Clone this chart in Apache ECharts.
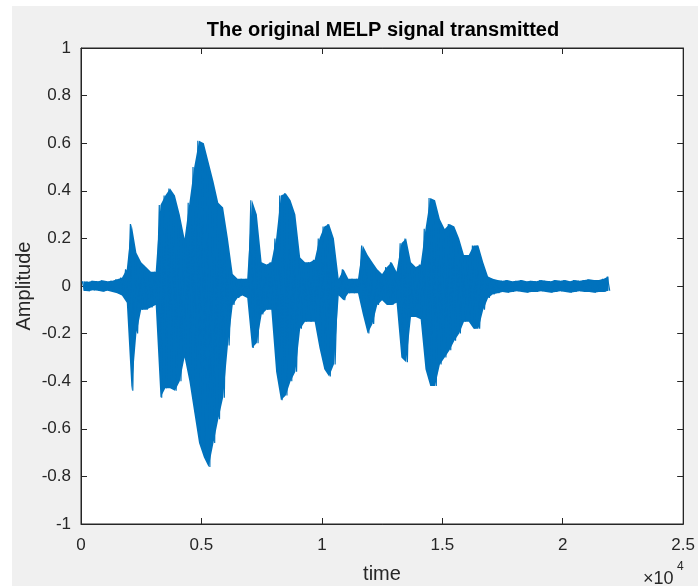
<!DOCTYPE html>
<html>
<head>
<meta charset="utf-8">
<script src="https://cdn.jsdelivr.net/npm/echarts@6/dist/echarts.min.js"></script>
<style>
  html, body { margin: 0; padding: 0; background: #ffffff; }
  #bg { position: absolute; left: 12px; top: 6px; width: 686px; height: 580px; background: #f0f0f0; }
  #chart { position: absolute; left: 0; top: 0; width: 698px; height: 586px; }
</style>
</head>
<body>
<div id="bg"></div>
<div id="chart"></div>
<script>
// Envelope of the waveform, one max/min pair per block of samples
const blockSize = 200;
const blockMax = [
  0.02, 0.018, 0.022, 0.02, 0.024, 0.02, 0.022, 0.028, 0.035, 0.07,
  0.26, 0.14, 0.1, 0.08, 0.06, 0.06, 0.34, 0.38, 0.41, 0.38,
  0.3, 0.2, 0.35, 0.5, 0.61, 0.6, 0.52, 0.44, 0.35, 0.33,
  0.2, 0.05, 0.03, 0.03, 0.03, 0.36, 0.3, 0.1, 0.09, 0.1,
  0.2, 0.38, 0.39, 0.36, 0.3, 0.12, 0.1, 0.1, 0.11, 0.2,
  0.25, 0.26, 0.2, 0.03, 0.07, 0.03, 0.03, 0.03, 0.17, 0.13,
  0.1, 0.07, 0.05, 0.08, 0.1, 0.06, 0.18, 0.2, 0.1, 0.08,
  0.09, 0.24, 0.37, 0.36, 0.28, 0.24, 0.26, 0.25, 0.2, 0.13,
  0.13, 0.17, 0.17, 0.1, 0.04, 0.03, 0.025, 0.022, 0.025, 0.02,
  0.022, 0.025, 0.02, 0.022, 0.02, 0.025, 0.022, 0.02, 0.025, 0.022,
  0.025, 0.02, 0.025, 0.022, 0.025, 0.028, 0.025, 0.025, 0.03, 0.04
];
const blockMin = [
  -0.02, -0.022, -0.018, -0.02, -0.024, -0.02, -0.025, -0.03, -0.04, -0.07,
  -0.44, -0.2, -0.1, -0.1, -0.09, -0.08, -0.47, -0.43, -0.43, -0.44,
  -0.4, -0.3, -0.4, -0.53, -0.66, -0.72, -0.76, -0.66, -0.56, -0.47,
  -0.25, -0.08, -0.05, -0.04, -0.05, -0.26, -0.24, -0.12, -0.1, -0.1,
  -0.36, -0.48, -0.46, -0.4, -0.36, -0.18, -0.15, -0.15, -0.15, -0.26,
  -0.35, -0.38, -0.33, -0.04, -0.06, -0.03, -0.03, -0.03, -0.12, -0.2,
  -0.16, -0.08, -0.06, -0.08, -0.08, -0.07, -0.3, -0.32, -0.13, -0.13,
  -0.14, -0.35, -0.42, -0.42, -0.33, -0.3, -0.27, -0.23, -0.2, -0.15,
  -0.15, -0.18, -0.18, -0.1, -0.05, -0.035, -0.03, -0.025, -0.028, -0.025,
  -0.022, -0.025, -0.028, -0.025, -0.025, -0.022, -0.025, -0.028, -0.025, -0.022,
  -0.025, -0.028, -0.025, -0.022, -0.025, -0.025, -0.028, -0.025, -0.025, -0.02
];
const xTicks = [0, 5000, 10000, 15000, 20000, 25000];
const yTicks = [-1, -0.8, -0.6, -0.4, -0.2, 0, 0.2, 0.4, 0.6, 0.8, 1];
const titleText = 'The original MELP signal transmitted';
const xName = 'time';
const yName = 'Amplitude';

const waveColor = '#0072BD';

// zig-zag trace: max then min inside each block
const points = [];
for (let i = 0; i < blockMax.length; i++) {
  points.push([i * blockSize + blockSize * 0.25, blockMax[i]]);
  points.push([i * blockSize + blockSize * 0.75, blockMin[i]]);
}
// envelope rows for the filled band
const envelope = blockMax.map((v, i) => [i * blockSize + blockSize / 2, v, blockMin[i]]);

const axisColor = '#262626';
const font = 'Liberation Sans, Arial, Helvetica, sans-serif';
const chart = echarts.init(document.getElementById('chart'), null, { renderer: 'canvas' });

const tickCommon = { show: true, inside: true, length: 6, lineStyle: { color: axisColor, width: 1 } };

chart.setOption({
  backgroundColor: 'transparent',
  animation: false,
  grid: { left: 81, top: 48, width: 604, height: 476, show: true, backgroundColor: '#ffffff', borderColor: axisColor, borderWidth: 1, containLabel: false },
  xAxis: [
    {
      type: 'value', position: 'bottom', min: xTicks[0], max: xTicks[xTicks.length - 1], interval: 5000,
      axisLine: { show: true, onZero: false, lineStyle: { color: axisColor, width: 1 } },
      axisTick: tickCommon,
      splitLine: { show: false },
      axisLabel: { margin: 13, color: axisColor, fontSize: 17, fontFamily: font, formatter: v => String(v / 10000) }
    },
    {
      type: 'value', position: 'top', min: xTicks[0], max: xTicks[xTicks.length - 1], interval: 5000,
      axisLine: { show: true, onZero: false, lineStyle: { color: axisColor, width: 1 } },
      axisTick: tickCommon, splitLine: { show: false }, axisLabel: { show: false }
    }
  ],
  yAxis: [
    {
      type: 'value', position: 'left', min: yTicks[0], max: yTicks[yTicks.length - 1], interval: 0.2,
      axisLine: { show: true, onZero: false, lineStyle: { color: axisColor, width: 1 } },
      axisTick: tickCommon,
      splitLine: { show: false },
      axisLabel: { margin: 10, color: axisColor, fontSize: 17, fontFamily: font, formatter: v => String(Math.round(v * 10) / 10) }
    },
    {
      type: 'value', position: 'right', min: yTicks[0], max: yTicks[yTicks.length - 1], interval: 0.2,
      axisLine: { show: true, onZero: false, lineStyle: { color: axisColor, width: 1 } },
      axisTick: tickCommon, splitLine: { show: false }, axisLabel: { show: false }
    }
  ],
  series: [
    {
      type: 'custom', xAxisIndex: 0, yAxisIndex: 0,
      data: [0],
      renderItem: function (params, api) {
        const upper = envelope.map(r => api.coord([r[0], r[1]]));
        const lower = envelope.slice().reverse().map(r => api.coord([r[0], r[2]]));
        return { type: 'polygon', shape: { points: upper.concat(lower) }, style: { fill: waveColor } };
      },
      z: 2, silent: true
    },
    {
      type: 'line', data: points, xAxisIndex: 0, yAxisIndex: 0,
      showSymbol: false, symbol: 'none', sampling: null,
      lineStyle: { color: waveColor, width: 1.2 },
      z: 3
    }
  ],
  graphic: [
    { type: 'text', x: 383, y: 30, style: { text: titleText, fill: '#000', font: 'bold 20px ' + font, textAlign: 'center', textVerticalAlign: 'middle' } },
    { type: 'text', x: 382, y: 574, style: { text: xName, fill: axisColor, font: '20px ' + font, textAlign: 'center', textVerticalAlign: 'middle' } },
    { type: 'text', x: 24, y: 286, rotation: Math.PI / 2, style: { text: yName, fill: axisColor, font: '20px ' + font, textAlign: 'center', textVerticalAlign: 'middle' } },
    { type: 'text', x: 643, y: 579, style: { text: '\u00d710', fill: axisColor, font: '18px ' + font, textAlign: 'left', textVerticalAlign: 'middle' } },
    { type: 'text', x: 677, y: 567, style: { text: '4', fill: axisColor, font: '12px ' + font, textAlign: 'left', textVerticalAlign: 'middle' } }
  ]
});
</script>
</body>
</html>
